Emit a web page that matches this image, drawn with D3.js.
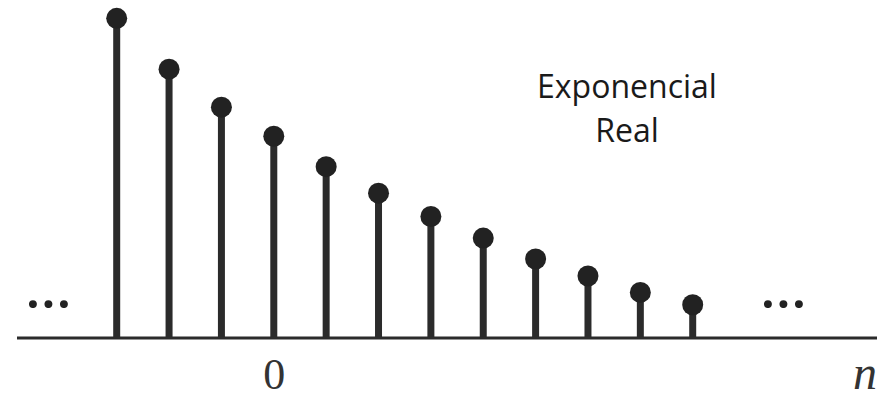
<!DOCTYPE html>
<html>
<head>
<meta charset="utf-8">
<script src="https://cdn.jsdelivr.net/npm/d3@7"></script>
<style>
  html, body { margin: 0; padding: 0; background: #fff; }
  svg { display: block; }
</style>
</head>
<body>
<svg id="chart" width="888" height="394"></svg>
<script>
// ---- data ----
const nValues = [-3, -2, -1, 0, 1, 2, 3, 4, 5, 6, 7, 8];
const xValues = [1.00, 0.841, 0.722, 0.631, 0.536, 0.453, 0.380, 0.3125, 0.247, 0.194, 0.1425, 0.104];
const tickLabels = ["0"];
const tickPositions = [0];
const titleLines = ["Exponencial", "Real"];
const axisLabel = "n";
const ellipsis = "...";

// ---- layout ----
const W = 888, H = 394;
const baseY = 338;
const svg = d3.select("#chart");
const ink = "#2b2b2b";

const x = d3.scaleLinear().domain([-3, 8]).range([116.7, 692.7]);
const y = d3.scaleLinear().domain([0, 1]).range([baseY, 18.3]);

// baseline
svg.append("line")
  .attr("x1", 17).attr("x2", 877)
  .attr("y1", baseY).attr("y2", baseY)
  .attr("stroke", ink).attr("stroke-width", 3);

// axis label "0" through d3 axis
const axis = d3.axisBottom(x).tickValues(tickPositions)
  .tickFormat((d, i) => tickLabels[i]).tickSize(0).tickPadding(20);
const ag = svg.append("g").attr("transform", `translate(0,${baseY})`).call(axis);
ag.select(".domain").remove();
ag.selectAll("text")
  .attr("font-family", "'Liberation Serif', 'DejaVu Serif', serif")
  .attr("font-size", 44).attr("fill", "#333")
  .attr("dy", "0.71em");

// stems
const stems = svg.append("g");
stems.selectAll("line").data(nValues).join("line")
  .attr("x1", d => x(d)).attr("x2", d => x(d))
  .attr("y1", baseY).attr("y2", (d, i) => y(xValues[i]))
  .attr("stroke", ink).attr("stroke-width", 7);
stems.selectAll("circle").data(nValues).join("circle")
  .attr("cx", d => x(d)).attr("cy", (d, i) => y(xValues[i]))
  .attr("r", 10.5).attr("fill", "#222");

// ellipses (each dot glyph centred on its own x)
[33, 768].forEach(sx => {
  svg.append("text")
    .attr("x", [sx, sx + 15.5, sx + 31].join(" "))
    .attr("y", 308)
    .attr("text-anchor", "middle")
    .attr("font-family", "Lato, sans-serif").attr("font-weight", "bold")
    .attr("font-size", 52).attr("fill", "#222")
    .text(ellipsis);
});

// n label
svg.append("text").attr("x", 865).attr("y", 389)
  .attr("text-anchor", "middle")
  .attr("font-family", "'Liberation Serif', 'DejaVu Serif', serif")
  .attr("font-style", "italic")
  .attr("font-size", 48).attr("fill", "#333")
  .text(axisLabel);

// title
svg.append("g").selectAll("text").data(titleLines).join("text")
  .attr("x", 627).attr("y", (d, i) => 98 + i * 44)
  .attr("text-anchor", "middle")
  .attr("font-family", "'Open Sans', sans-serif")
  .attr("font-size", 32).attr("fill", "#1a1a1a")
  .text(d => d);
</script>
</body>
</html>
